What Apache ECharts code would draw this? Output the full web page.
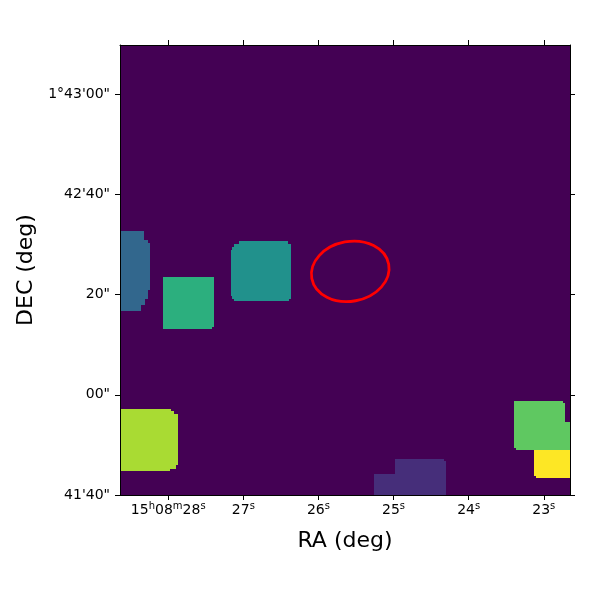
<!DOCTYPE html>
<html><head><meta charset="utf-8">
<style>html,body{margin:0;padding:0;background:#fff}#c{width:600px;height:600px}</style>
<script src="https://cdn.jsdelivr.net/npm/echarts@6/dist/echarts.min.js"></script>
</head><body><div id="c"></div>
<script>
// Right ascension ticks (seconds of 15h08m) and declination ticks (arcsec above 1°41'40")
const raTicks = [28, 27, 26, 25, 24, 23];
const raTickLabels = ['15h08m28s', '27s', '26s', '25s', '24s', '23s'];
const decTicks = [0, 20, 40, 60, 80];
const decTickLabels = ['41\'40"', '00"', '20"', '42\'40"', '1°43\'00"'];
const raRange = [22.651, 28.642];
const decRange = [0, 89.78];
const imageSize = 450;
// Image regions as runs: [col0, col1, row0, row1, value]
const background = [[0, 450, 0, 450, 0]];
const regionLeft = [[0,24,255,264,.33],[0,28,252,255,.33],[0,30,205,252,.33],[0,28,196,205,.33],[0,25,190,196,.33],[0,21,184,190,.33]];
const regionSquare = [[43,94,168,218,.63],[43,92,166,168,.63]];
const regionCentre = [[119,168,251,254,.5],[114,171,248,251,.5],[112,171,245,248,.5],[111,171,199,245,.5],[112,171,196,199,.5],[114,169,194,196,.5]];
const regionLime = [[0,51,84,86,.87],[0,54,81,84,.87],[0,58,30,81,.87],[0,56,26,30,.87],[0,50,24,26,.87]];
const regionGreen = [[394,443,92,94,.75],[394,445,73,92,.75],[394,450,47,73,.75],[396,450,45,47,.75]];
const regionYellow = [[414,450,19,45,1],[416,450,17,19,1]];
const regionPurple = [[254,275,0,21,.13],[275,326,0,34,.13],[275,324,34,36,.13]];
// Ellipse marker: centre col, centre row, semi-major, semi-minor, tilt (deg)
const ellipseMarker = [[230.25, 223.65, 39.1, 29.9, 10.5]];
const viridis = ['#440154','#482475','#414487','#355f8d','#2a788e','#21918c','#22a884','#44bf70','#7ad151','#bddf26','#fde725'];

const font = 'DejaVu Sans';
const axisLineStyle = {color:'#000', width:1};
function raFmt(v){
  let i = raTicks.findIndex(t => Math.abs(t-v) < 1e-6);
  if (i < 0) return '';
  return raTickLabels[i].replace(/(\d+)|([hms])/g, (m,d,l) => d ? '{b|'+d+'}' : '{s|'+l+'}');
}
function decFmt(v){
  let i = decTicks.findIndex(t => Math.abs(t-v) < 1e-6);
  return i < 0 ? '' : decTickLabels[i];
}
const chart = echarts.init(document.getElementById('c'), null, {renderer:'canvas'});
function rectItem(params, api){
  const p0 = api.coord([api.value(0), api.value(2)]);
  const p1 = api.coord([api.value(1), api.value(3)]);
  return {type:'rect', shape:{x:p0[0], y:p1[1], width:p1[0]-p0[0], height:p0[1]-p1[1]},
    style:{fill:api.visual('color')}};
}
function ellipseItem(params, api){
  const c = api.coord([api.value(0), api.value(1)]);
  const s = api.size([api.value(2), api.value(3)]);
  return {type:'ellipse', x:c[0], y:c[1], rotation:api.value(4)*Math.PI/180,
    shape:{cx:0, cy:0, rx:s[0], ry:s[1]},
    style:{fill:'none', stroke:'#ff0000', lineWidth:2.8}};
}
const grid = {left:120, top:45, width:450, height:450};
chart.setOption({
  animation:false,
  backgroundColor:'#fff',
  textStyle:{fontFamily:font},
  grid,
  visualMap:{show:false, seriesIndex:0, dimension:4, min:0, max:1, inRange:{color:viridis}},
  xAxis:[
    {type:'value', position:'bottom', inverse:true, min:raRange[0], max:raRange[1], scale:true, z:10,
     name:'RA (deg)', nameLocation:'middle', nameGap:35, nameTextStyle:{fontSize:22, color:'#000', fontFamily:font},
     splitLine:{show:false}, axisLine:{show:true, onZero:false, lineStyle:axisLineStyle},
     axisTick:{show:true, length:5, lineStyle:axisLineStyle, customValues:raTicks},
     axisLabel:{show:true, margin:6, color:'#000', customValues:raTicks, formatter:raFmt,
       rich:{b:{fontSize:14, color:'#000', fontFamily:font, lineHeight:16, verticalAlign:'bottom'},
             s:{fontSize:10, color:'#000', fontFamily:font, lineHeight:8, verticalAlign:'top'}}}},
    {type:'value', position:'top', inverse:true, min:raRange[0], max:raRange[1], scale:true, z:10,
     splitLine:{show:false}, axisLine:{show:true, onZero:false, lineStyle:axisLineStyle},
     axisTick:{show:true, length:5, lineStyle:axisLineStyle, customValues:raTicks},
     axisLabel:{show:false}},
    {type:'value', show:false, min:0, max:imageSize, splitLine:{show:false}}
  ],
  yAxis:[
    {type:'value', position:'left', min:decRange[0], max:decRange[1], z:10,
     name:'DEC (deg)', nameLocation:'middle', nameGap:83, nameTextStyle:{fontSize:22, color:'#000', fontFamily:font},
     splitLine:{show:false}, axisLine:{show:true, onZero:false, lineStyle:axisLineStyle},
     axisTick:{show:true, length:5, lineStyle:axisLineStyle, customValues:decTicks},
     axisLabel:{show:true, margin:10, fontSize:14, color:'#000', fontFamily:font, customValues:decTicks, formatter:decFmt}},
    {type:'value', position:'right', min:decRange[0], max:decRange[1], z:10,
     splitLine:{show:false}, axisLine:{show:true, onZero:false, lineStyle:axisLineStyle},
     axisTick:{show:true, length:5, lineStyle:axisLineStyle, customValues:decTicks},
     axisLabel:{show:false}},
    {type:'value', show:false, min:0, max:imageSize, splitLine:{show:false}}
  ],
  series:[
    {type:'custom', xAxisIndex:2, yAxisIndex:2, renderItem:rectItem, silent:true, clip:true, z:1,
     encode:{x:[0,1], y:[2,3]},
     data:[].concat(background, regionLeft, regionSquare, regionCentre, regionLime, regionGreen, regionYellow, regionPurple)},
    {type:'custom', xAxisIndex:2, yAxisIndex:2, renderItem:ellipseItem, silent:true, clip:true, z:2,
     encode:{x:0, y:1}, data:ellipseMarker}
  ]
});
</script></body></html>
